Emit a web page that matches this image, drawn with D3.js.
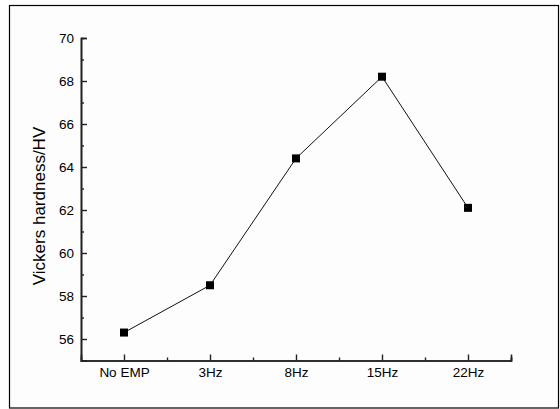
<!DOCTYPE html>
<html>
<head>
<meta charset="utf-8">
<script src="https://cdn.jsdelivr.net/npm/d3@7"></script>
<style>
  body { margin: 0; background: #fff; }
  text { font-family: "Liberation Sans", Arial, sans-serif; fill: #000; }
</style>
</head>
<body>
<div id="chart-area"></div>
<script>

// data
let categories = ["No EMP", "3Hz", "8Hz", "15Hz", "22Hz"];
let hardness = [56.3, 58.5, 64.4, 68.2, 62.1];
let yTicks = [56, 58, 60, 62, 64, 66, 68, 70];

let W = 560, H = 409;

let svg = d3.select("#chart-area").append("svg")
    .attr("width", W)
    .attr("height", H);

// outer frame
svg.append("rect")
    .attr("x", 9.5).attr("y", 5.5)
    .attr("width", 549).attr("height", 402.5)
    .attr("fill", "#fdfdfd")
    .attr("stroke", "#000")
    .attr("stroke-width", 1.2);

// scales
let x = d3.scaleLinear()
    .domain([-0.5, categories.length - 0.5])
    .range([81, 511]);

let y = d3.scaleLinear()
    .domain([55, 70])
    .range([360.5, 38]);

// y axis (inward ticks)
let yAxis = d3.axisRight(y)
    .tickValues(yTicks)
    .tickSize(6)
    .tickFormat(d3.format("d"));
let yMinor = d3.axisRight(y)
    .tickValues(d3.range(57, 70, 2))
    .tickSize(3)
    .tickFormat("");

let yG = svg.append("g").attr("transform", "translate(81,0)").call(yAxis);
yG.attr("font-size", null).attr("font-family", null);
yG.selectAll("text").attr("x", -7).attr("text-anchor", "end").style("font-size", "13.5px");
svg.append("g").attr("transform", "translate(81,0)").call(yMinor);

// x axis (inward ticks)
let xAxis = d3.axisTop(x)
    .tickValues(d3.range(categories.length))
    .tickSize(6)
    .tickFormat(i => categories[i]);
let xMinor = d3.axisTop(x)
    .tickValues(d3.range(0.5, categories.length, 1))
    .tickSize(3)
    .tickFormat("");

let xG = svg.append("g").attr("transform", "translate(0,360.5)").call(xAxis);
xG.attr("font-size", null).attr("font-family", null);
xG.selectAll("text").attr("y", 7).attr("dy", "0.71em").style("font-size", "13.5px");
svg.append("g").attr("transform", "translate(0,360.5)").call(xMinor);

svg.selectAll(".domain").attr("stroke", "#222").attr("stroke-width", 1.6);
svg.selectAll(".tick line").attr("stroke", "#222").attr("stroke-width", 1.4);

// y label
svg.append("text")
    .attr("transform", "translate(45,206) rotate(-90)")
    .attr("text-anchor", "middle")
    .style("font-size", "17px")
    .text("Vickers hardness/HV");

// line
let line = d3.line()
    .x((d, i) => x(i))
    .y(d => y(d));

svg.append("path")
    .datum(hardness)
    .attr("fill", "none")
    .attr("stroke", "#111")
    .attr("stroke-width", 1)
    .attr("d", line);

// markers
svg.selectAll(".pt")
    .data(hardness)
    .enter()
    .append("rect")
    .attr("class", "pt")
    .attr("x", (d, i) => x(i) - 4)
    .attr("y", d => y(d) - 4)
    .attr("width", 8)
    .attr("height", 8)
    .attr("fill", "#000");

</script>
</body>
</html>
